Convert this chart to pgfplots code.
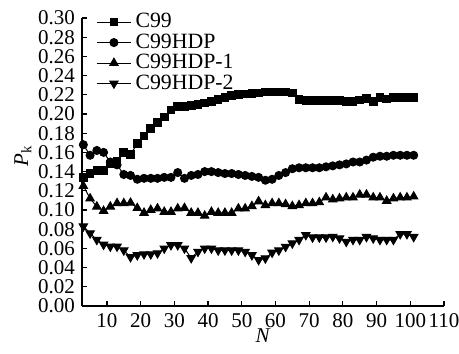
\documentclass[border=0pt]{standalone}
\usepackage{fontspec}
\setmainfont{Liberation Serif}
\usepackage{pgfplots}
\pgfplotsset{compat=1.18}
\usepackage{pgfplotstable}

\pgfplotstableread{
N c99 hdp hdp1 hdp2
3 0.134 0.168 0.125 0.083
5 0.138 0.157 0.112 0.0757
7 0.141 0.162 0.1035 0.069
9 0.141 0.160 0.099 0.064
11 0.148 0.150 0.1035 0.062
13 0.151 0.147 0.107 0.062
15 0.160 0.137 0.107 0.058
17 0.158 0.136 0.1075 0.051
19 0.169 0.132 0.102 0.053
21 0.177 0.133 0.097 0.054
23 0.185 0.133 0.100 0.054
25 0.191 0.133 0.1015 0.055
27 0.197 0.134 0.098 0.060
29 0.204 0.134 0.098 0.0635
31 0.2075 0.139 0.1015 0.0635
33 0.208 0.133 0.102 0.060
35 0.209 0.136 0.097 0.050
37 0.210 0.137 0.097 0.0566
39 0.2115 0.140 0.094 0.060
41 0.213 0.140 0.098 0.060
43 0.215 0.139 0.097 0.058
45 0.217 0.138 0.097 0.058
47 0.219 0.138 0.097 0.058
49 0.220 0.137 0.1015 0.058
51 0.221 0.136 0.1015 0.0566
53 0.2215 0.135 0.104 0.053
55 0.222 0.134 0.109 0.048
57 0.223 0.131 0.105 0.0497
59 0.223 0.132 0.107 0.0556
61 0.223 0.136 0.107 0.058
63 0.223 0.139 0.106 0.0618
65 0.222 0.143 0.104 0.0653
67 0.215 0.144 0.105 0.069
69 0.214 0.144 0.107 0.074
71 0.214 0.144 0.107 0.0715
73 0.214 0.144 0.108 0.0715
75 0.214 0.145 0.113 0.0715
77 0.214 0.146 0.111 0.0722
79 0.214 0.147 0.112 0.0705
81 0.213 0.148 0.113 0.067
83 0.213 0.150 0.113 0.069
85 0.2146 0.150 0.116 0.069
87 0.216 0.152 0.116 0.072
89 0.213 0.155 0.113 0.0705
91 0.217 0.156 0.113 0.069
93 0.2155 0.156 0.1095 0.069
95 0.217 0.157 0.112 0.069
97 0.217 0.157 0.113 0.075
99 0.217 0.157 0.113 0.075
101 0.217 0.157 0.114 0.072
}\data

\begin{document}
\begin{tikzpicture}
\path[use as bounding box] (-41pt,-23.5pt) rectangle (188.5pt,153pt);
\begin{axis}[
  at={(0,0)}, anchor=south west,
  scale only axis, width=181pt, height=144pt,
  xmin=2.6, xmax=110, ymin=0, ymax=0.30,
  axis x line=bottom, axis y line=left,
  axis line style={-, line width=0.6pt},
  xtick={10,20,30,40,50,60,70,80,90,100,110},
  ytick={0,0.02,0.04,0.06,0.08,0.10,0.12,0.14,0.16,0.18,0.20,0.22,0.24,0.26,0.28,0.30},
  yticklabel style={/pgf/number format/.cd, fixed, fixed zerofill, precision=2},
  /pgf/number format/assume math mode=true,
  tick align=inside, major tick length=2.5pt,
  tick style={black, line width=0.6pt},
  font=\fontsize{10.5}{12}\selectfont,
  ticklabel style={font=\fontsize{10.5}{12}\selectfont},
  xlabel={\textit{N}}, ylabel={\textit{P}\textsubscript{k}},
  xlabel style={yshift=6pt},
  ylabel style={yshift=-3.5pt, xshift=3pt},
  legend style={at={(0.022,1.045)}, anchor=north west, draw=none, fill=none,
    font=\fontsize{10.9}{12}\selectfont, row sep=-2.5pt},
  legend cell align=left,
]
\addplot[black, line width=0.5pt, mark=square*, mark size=1.9pt] table[x=N,y=c99]{\data};
\addlegendentry{C99}
\addplot[black, line width=0.5pt, mark=*, mark size=2pt] table[x=N,y=hdp]{\data};
\addlegendentry{C99HDP}
\addplot[black, line width=0.5pt, mark=triangle*, mark size=2.4pt] table[x=N,y=hdp1]{\data};
\addlegendentry{C99HDP-1}
\addplot[black, line width=0.5pt, mark=triangle*, mark size=2.4pt, mark options={rotate=180}] table[x=N,y=hdp2]{\data};
\addlegendentry{C99HDP-2}
\end{axis}
\end{tikzpicture}
\end{document}
